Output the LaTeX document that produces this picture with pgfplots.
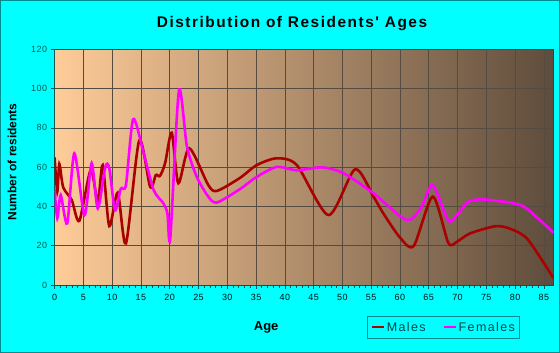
\documentclass[border=0pt]{standalone}
\usepackage{pgfplots}
\pgfplotsset{compat=1.18}
\usepackage{fontspec}
\setmainfont{Liberation Sans}
\newfontfamily\titlefont[LetterSpace=10]{Liberation Sans}
\newfontfamily\legfont[LetterSpace=11]{Liberation Sans}
\newfontfamily\tickfont[LetterSpace=5]{Liberation Sans}
\definecolor{bgcyan}{RGB}{0,255,255}
\definecolor{framec}{RGB}{0,140,140}
\definecolor{tickc}{RGB}{0,90,80}
\definecolor{legtext}{RGB}{0,70,70}
\definecolor{peach}{RGB}{255,204,153}
\definecolor{darkbrown}{RGB}{94,76,60}
\definecolor{gridc}{RGB}{85,75,65}
\definecolor{males}{RGB}{170,0,0}
\definecolor{females}{RGB}{255,0,255}
\begin{document}
\begin{tikzpicture}
\fill[bgcyan] (-54.6pt,-68pt) rectangle (505.4pt,285pt);
\draw[framec, line width=1.2pt] (-54.0pt,-67.4pt) rectangle (504.8pt,284.4pt);
\node[font=\titlefont\bfseries\fontsize{15.4}{18}\selectfont] at (237.4pt,261.5pt) {Distribution of Residents' Ages};
\begin{axis}[
  at={(0pt,0pt)}, anchor=south west,
  scale only axis, width=499pt, height=235.7pt,
  xmin=0, xmax=86.7, ymin=0, ymax=120,
  xtick={0,5,...,85}, ytick={0,20,...,120},
  minor x tick num=4,
  tick align=outside, tick pos=left,
  major tick length=4pt, minor tick length=3pt,
  every tick/.style={tickc, line width=0.6pt},
  grid=major,
  major grid style={gridc, line width=0.6pt},
  axis line style={tickc, line width=0.8pt},
  axis background/.style={left color=peach, right color=darkbrown},
  /pgf/number format/assume math mode=true,
  ticklabel style={font=\tickfont\fontsize{9}{10}\selectfont},
  xticklabel style={text=black!85!teal, yshift=-2pt},
  yticklabel style={text=tickc},
  xlabel={Age},
  xlabel style={at={(axis description cs:0.424,-0.18)}, anchor=center, font=\bfseries\fontsize{13}{15}\selectfont, text=black},
  ylabel={Number of residents},
  ylabel style={at={(axis description cs:-0.0854,0.523)}, anchor=center, font=\bfseries\fontsize{12}{14}\selectfont},
  legend columns=2,
  legend style={at={(axis description cs:0.627,-0.1324)}, anchor=north west, draw=framec, fill=bgcyan, line width=0.8pt, font=\legfont\fontsize{12.5}{14}\selectfont, text=legtext, inner xsep=3pt, inner ysep=3.5pt, /tikz/every even column/.append style={column sep=15pt}},
  legend image code/.code={\draw[#1, line width=2pt] (0,0) -- (12pt,0);},
]
\addplot[males, line width=2.6pt, smooth, tension=0.45] coordinates {
(0,65) (0.47,47.5) (0.82,61.6) (1.5,49.7) (2.97,43.3) (4.3,32.7) (6.27,58.5) (7.5,42.4) (8.36,61) (9.5,30) (10.97,47) (12.4,21.2) (14.7,73.5) (16.6,50) (17.6,56) (18.3,55.5) (19.2,62) (20.35,77.5) (21.5,51.8) (23.4,69.6) (26.7,50.9) (28.2,47.9) (32.2,54.5) (35.1,61) (38.6,64.5) (42.1,61) (47.6,35.6) (52.2,58.9) (55.4,45) (57,37) (60,24.2) (62.4,19.9) (65.7,45) (68.4,21.5) (69.9,22) (72.2,26.3) (76.8,30) (79.7,28) (82.3,22.9) (86.7,3.4)
};
\addlegendentry{Males}
\addplot[females, line width=2.6pt, smooth, tension=0.45] coordinates {
(0,49) (0.47,34) (1.06,45.8) (2.2,31.4) (3.43,67) (5.2,35.6) (6.44,62) (7.5,39) (8.8,60) (9.5,59.5) (10.5,38) (11.5,49) (12.4,51) (13.65,84.4) (15.4,68) (17.2,48.4) (18.9,41.6) (19.6,36.5) (20.1,23.8) (21.6,98.9) (23,70.4) (24.7,55.1) (26.7,45) (28.2,42) (32.2,48.8) (35.1,55) (38.6,60.1) (42.1,58.4) (46.4,59.9) (50.2,56.9) (55.4,46.7) (61.1,33.1) (63.6,39) (65.7,50.9) (68.4,32.7) (69.9,35.6) (71.9,42.4) (74.5,43.6) (79.7,41.6) (82,39) (86.7,26.6)
};
\addlegendentry{Females}
\end{axis}
\end{tikzpicture}
\end{document}
